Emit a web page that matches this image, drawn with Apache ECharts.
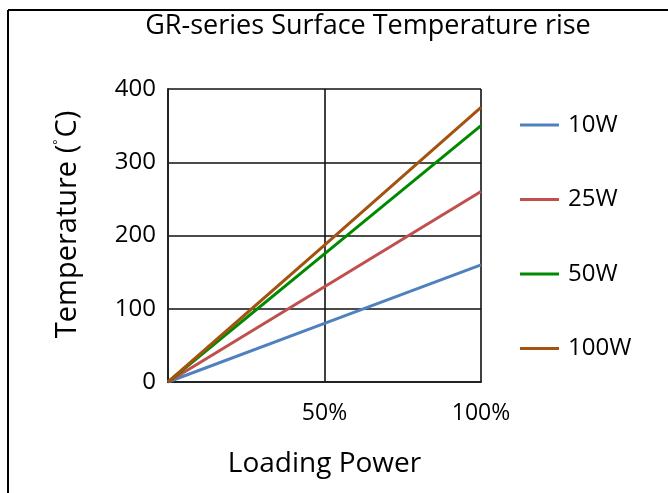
<!DOCTYPE html>
<html>
<head>
<meta charset="utf-8">
<script src="https://cdn.jsdelivr.net/npm/echarts@6/dist/echarts.min.js"></script>
<style>html,body{margin:0;padding:0;background:#fff}#c{width:668px;height:493px}</style>
</head>
<body>
<div id="c"></div>
<script>
var loading = [0, 50, 100];
var seriesNames = ['10W', '25W', '50W', '100W'];
var temp10W = [0, 80, 160];
var temp25W = [0, 130, 260];
var temp50W = [0, 175, 350];
var temp100W = [0, 187, 375];
var yTicks = [0, 100, 200, 300, 400];
var colors = ['#4F81BD', '#C0504D', '#008A00', '#A3520F'];

var allValues = [temp10W, temp25W, temp50W, temp100W];
var FONT = 'Open Sans';
var chart = echarts.init(document.getElementById('c'), null, {renderer: 'canvas'});
chart.setOption({
  backgroundColor: '#fff',
  animation: false,
  color: colors,
  title: {
    text: 'GR-series Surface Temperature rise',
    left: 363, top: 8, textAlign: 'center',
    textStyle: {fontFamily: FONT, fontSize: 27, fontWeight: 'normal', color: '#000'}
  },
  legend: {
    orient: 'vertical', left: 515, top: 108,
    icon: 'rect', itemWidth: 39, itemHeight: 3, itemGap: 50.5,
    data: seriesNames,
    textStyle: {fontFamily: FONT, fontSize: 24, color: '#000', padding: [0, 0, 0, 4]}
  },
  grid: {left: 168, top: 89, right: 187, bottom: 111, containLabel: false},
  xAxis: {
    type: 'value', min: 0, max: 100, interval: 50,
    name: 'Loading Power', nameLocation: 'middle', nameGap: 68,
    nameTextStyle: {fontFamily: FONT, fontSize: 28, color: '#000'},
    axisLine: {show: true, lineStyle: {color: '#222', width: 2}},
    axisTick: {show: false},
    axisLabel: {margin: 20, fontFamily: FONT, fontSize: 23, color: '#000',
      formatter: function (v) { return v === 0 ? '' : v + '%'; }},
    splitLine: {show: true, lineStyle: {color: '#111', width: 1.6}}
  },
  yAxis: {
    type: 'value', min: yTicks[0], max: yTicks[yTicks.length - 1], interval: 100,
    name: 'Temperature ({deg|°}C)', nameLocation: 'middle', nameGap: 86,
    nameTextStyle: {fontFamily: FONT, fontSize: 29, color: '#000', padding: [0, 0, 0, 22],
      rich: {deg: {fontFamily: FONT, fontSize: 12, verticalAlign: 'top', padding: [0, 2, 12, 0]}}},
    axisLine: {show: true, lineStyle: {color: '#222', width: 2}},
    axisTick: {show: false},
    axisLabel: {margin: 12, fontFamily: FONT, fontSize: 24, color: '#000'},
    splitLine: {show: true, lineStyle: {color: '#111', width: 1.6}}
  },
  graphic: [
    {type: 'line', shape: {x1: 8, y1: 10, x2: 8, y2: 493}, style: {stroke: '#000', lineWidth: 2}},
    {type: 'line', shape: {x1: 8, y1: 10, x2: 668, y2: 10}, style: {stroke: '#000', lineWidth: 2}}
  ],
  series: seriesNames.map(function (n, i) {
    return {
      name: n, type: 'line', symbol: 'none',
      lineStyle: {width: 3, color: colors[i]},
      data: loading.map(function (x, j) { return [x, allValues[i][j]]; })
    };
  })
});
</script>
</body>
</html>
